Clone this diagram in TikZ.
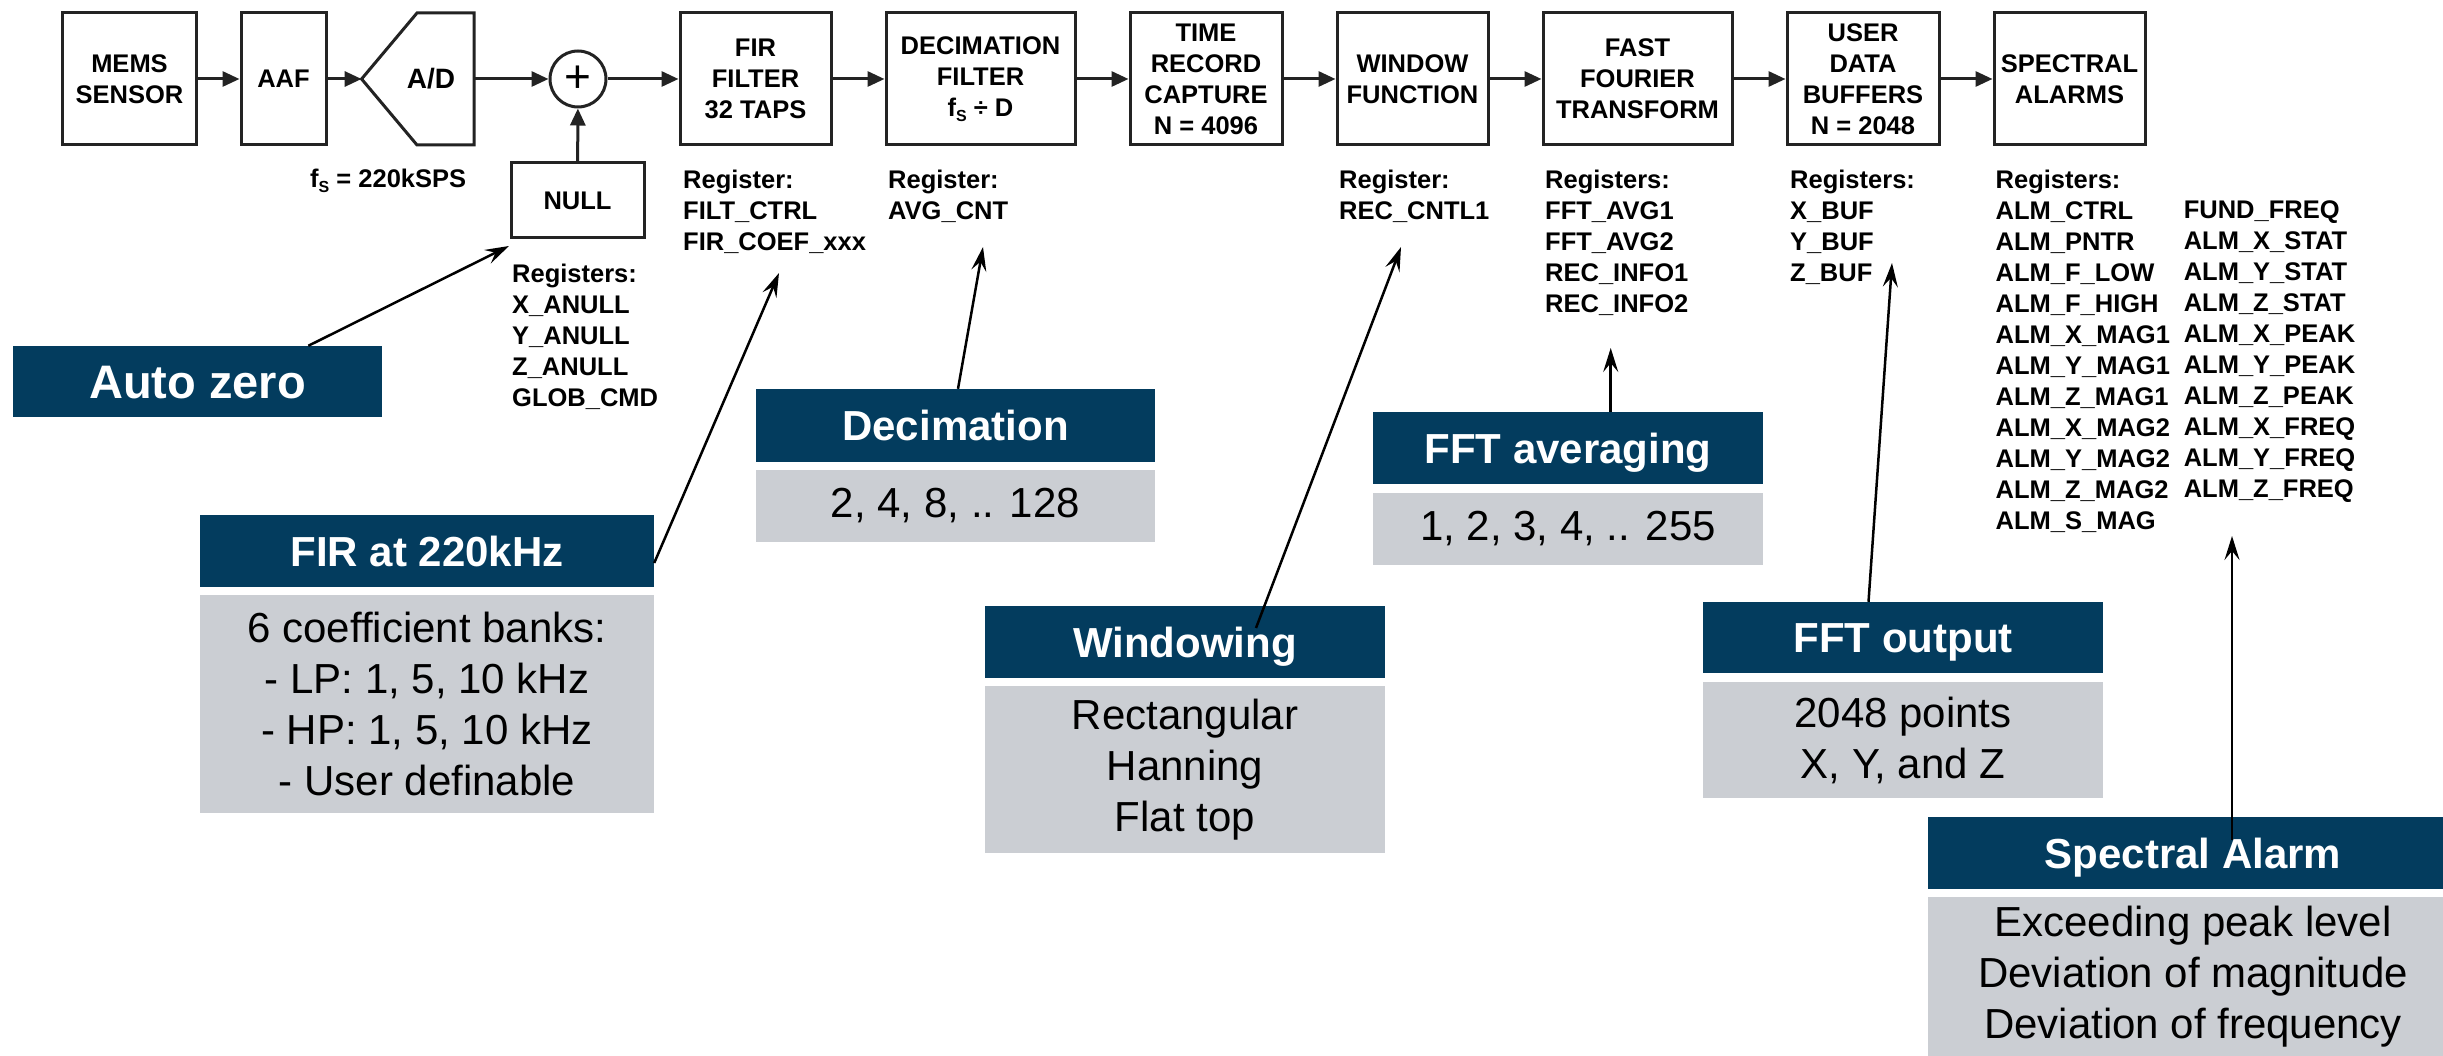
\documentclass[tikz,border=0pt]{standalone}
\usepackage{fontspec}
\setmainfont{Liberation Sans}
\usetikzlibrary{arrows.meta,calc}
\definecolor{navy}{RGB}{3,60,94}
\definecolor{graybox}{RGB}{203,206,211}
\definecolor{linec}{RGB}{35,35,35}
\newcommand{\subS}{{\fontsize{16}{16}\selectfont\raisebox{-5pt}{S}}}
\begin{document}
\begin{tikzpicture}[x=1pt,y=-1pt,
  blk/.style={draw=linec, line width=3pt, inner sep=0pt, align=center,
    font=\fontsize{25.5}{31}\selectfont\bfseries, minimum height=132pt},
  reg/.style={anchor=north west, inner sep=0pt, align=left,
    font=\fontsize{25.5}{31}\selectfont\bfseries},
  hdr/.style={fill=navy, text=white, inner sep=0pt,
    font=\fontsize{42}{51}\selectfont\bfseries, minimum height=72pt,
    text height=30pt, text depth=0pt},
  bdy/.style={fill=graybox, text=black, inner sep=0pt, align=center,
    font=\fontsize{42}{51}\selectfont},
  flow/.style={draw=linec, line width=3pt, -{Triangle[length=17pt,width=15pt]}},
  call/.style={draw=black, line width=2.5pt, -{Stealth[length=24pt,width=15pt,inset=9pt]}}
]
\useasboundingbox (0,0) rectangle (2443,1056);
\fill[white] (0,0) rectangle (2443,1056);

% ---- signal chain ----
\node[blk, minimum width=134pt] (mems) at (129.5,79) {MEMS\\SENSOR};
\node[blk, minimum width=85pt] (aaf) at (283.5,79) {AAF};
\draw[draw=linec, line width=3pt, line join=miter]
  (361.6,79) -- (417,13) -- (474,13) -- (474,145) -- (417,145) -- cycle;
\node[font=\fontsize{28}{31}\selectfont\bfseries, inner sep=0pt] (adc) at (431,79) {A/D};
\coordinate (adcL) at (361.6,79);
\coordinate (adcR) at (474,79);
\node[circle, draw=linec, line width=3pt, minimum size=56pt, inner sep=0pt,
  font=\fontsize{46}{46}\selectfont] (sum) at (578,79) {+};
\node[blk, minimum width=133pt, minimum height=75pt] (null) at (577.5,200.5) {NULL};
\node[blk, minimum width=151pt] (fir) at (755.5,79) {FIR\\FILTER\\32 TAPS};
\node[blk, minimum width=189pt] (dec) at (980.5,79) {DECIMATION\\FILTER\\f\subS{} ÷ D};
\node[blk, minimum width=152pt] (time) at (1206,79) {TIME\\RECORD\\CAPTURE\\N = 4096};
\node[blk, minimum width=151pt] (win) at (1412.5,79) {WINDOW\\FUNCTION};
\node[blk, minimum width=189pt] (fft) at (1637.5,79) {FAST\\FOURIER\\TRANSFORM};
\node[blk, minimum width=152pt] (user) at (1863,79) {USER\\DATA\\BUFFERS\\N = 2048};
\node[blk, minimum width=151pt] (spec) at (2069.5,79) {SPECTRAL\\ALARMS};

\draw[flow] (mems) -- (aaf);
\draw[flow] (aaf) -- (adcL);
\draw[flow] (adcR) -- (sum);
\draw[flow] (null) -- (sum);
\draw[flow] (sum) -- (fir);
\draw[flow] (fir) -- (dec);
\draw[flow] (dec) -- (time);
\draw[flow] (time) -- (win);
\draw[flow] (win) -- (fft);
\draw[flow] (fft) -- (user);
\draw[flow] (user) -- (spec);

% ---- register texts ----
\node[reg, anchor=base west] (fs) at (310,188) {f\subS{} = 220kSPS};
\node[reg] (nullreg) at (512,263.7) {Registers:\\X\_ANULL\\Y\_ANULL\\Z\_ANULL\\GLOB\_CMD};
\node[reg] (firreg) at (683,169.7) {Register:\\FILT\_CTRL\\FIR\_COEF\_xxx};
\node[reg] (decreg) at (888,169.7) {Register:\\AVG\_CNT};
\node[reg] (winreg) at (1339,169.7) {Register:\\REC\_CNTL1};
\node[reg] (fftreg) at (1545,169.7) {Registers:\\FFT\_AVG1\\FFT\_AVG2\\REC\_INFO1\\REC\_INFO2};
\node[reg] (userreg) at (1790,169.7) {Registers:\\X\_BUF\\Y\_BUF\\Z\_BUF};
\node[reg] (specreg) at (1995.5,169.7) {Registers:\\ALM\_CTRL\\ALM\_PNTR\\ALM\_F\_LOW\\ALM\_F\_HIGH\\ALM\_X\_MAG1\\ALM\_Y\_MAG1\\ALM\_Z\_MAG1\\ALM\_X\_MAG2\\ALM\_Y\_MAG2\\ALM\_Z\_MAG2\\ALM\_S\_MAG};
\node[reg] (specreg2) at (2183.6,200.7) {FUND\_FREQ\\ALM\_X\_STAT\\ALM\_Y\_STAT\\ALM\_Z\_STAT\\ALM\_X\_PEAK\\ALM\_Y\_PEAK\\ALM\_Z\_PEAK\\ALM\_X\_FREQ\\ALM\_Y\_FREQ\\ALM\_Z\_FREQ};

% ---- callouts ----
\node[hdr, minimum width=369pt, minimum height=71pt,
  font=\fontsize{47}{51}\selectfont\bfseries, text height=33.6pt] (az) at (197.5,381.5) {Auto zero};

\node[hdr, minimum width=399pt, minimum height=73pt] (dech) at (955.5,425.5) {Decimation};
\node[bdy, minimum width=399pt, minimum height=72pt] (decb) at (955.5,506) {2, 4, 8, .. 128};

\node[hdr, minimum width=454pt] (firh) at (427,551) {FIR at 220kHz};
\node[bdy, minimum width=454pt, minimum height=218pt] (firb) at (427,704)
  {6 coefficient banks:\\- LP: 1, 5, 10 kHz\\- HP: 1, 5, 10 kHz\\- User definable};

\node[hdr, minimum width=400pt] (winh) at (1185,642) {Windowing};
\node[bdy, minimum width=400pt, minimum height=167pt] (winb) at (1185,769.5)
  {Rectangular\\Hanning\\Flat top};

\node[hdr, minimum width=390pt] (ffah) at (1568,448) {FFT averaging};
\node[bdy, minimum width=390pt, minimum height=72pt] (ffab) at (1568,529) {1, 2, 3, 4, .. 255};

\node[hdr, minimum width=400pt, minimum height=71pt] (outh) at (1903,637.5) {FFT output};
\node[bdy, minimum width=400pt, minimum height=116pt] (outb) at (1903,740)
  {2048 points\\X, Y, and Z};

\node[hdr, minimum width=530pt] (alh) at (2193,853) {Spectral Alarm};
\node[bdy, minimum width=530pt, minimum height=159pt] (alb) at (2193,976.5)
  {Exceeding peak level\\Deviation of magnitude\\Deviation of frequency};

% ---- callout connectors ----
\coordinate (azH) at (509,246);
\draw[call] ($(az.north west)!0.8!(az.north east)$) -- (azH);
\coordinate (firH) at (779,273);
\draw[call] ($(firh.east)+(0,12)$) -- (firH);
\coordinate (decH) at (983,247);
\draw[call] ($(dech.north)+(2.5,0)$) -- (decH);
\coordinate (winH) at (1401,247);
\draw[call] ($(winh.center)+(71,-14)$) -- (winH);
\coordinate (ffaH) at (1610.7,348);
\draw[call] ($(ffah.north)+(42.7,0)$) -- (ffaH);
\coordinate (outH) at (1892,263);
\draw[call] ($(outh.north)+(-34.5,0)$) -- (outH);
\coordinate (alH) at (2232,536);
\draw[call] ($(alh.center)+(39,-13)$) -- (alH);
\end{tikzpicture}
\end{document}
